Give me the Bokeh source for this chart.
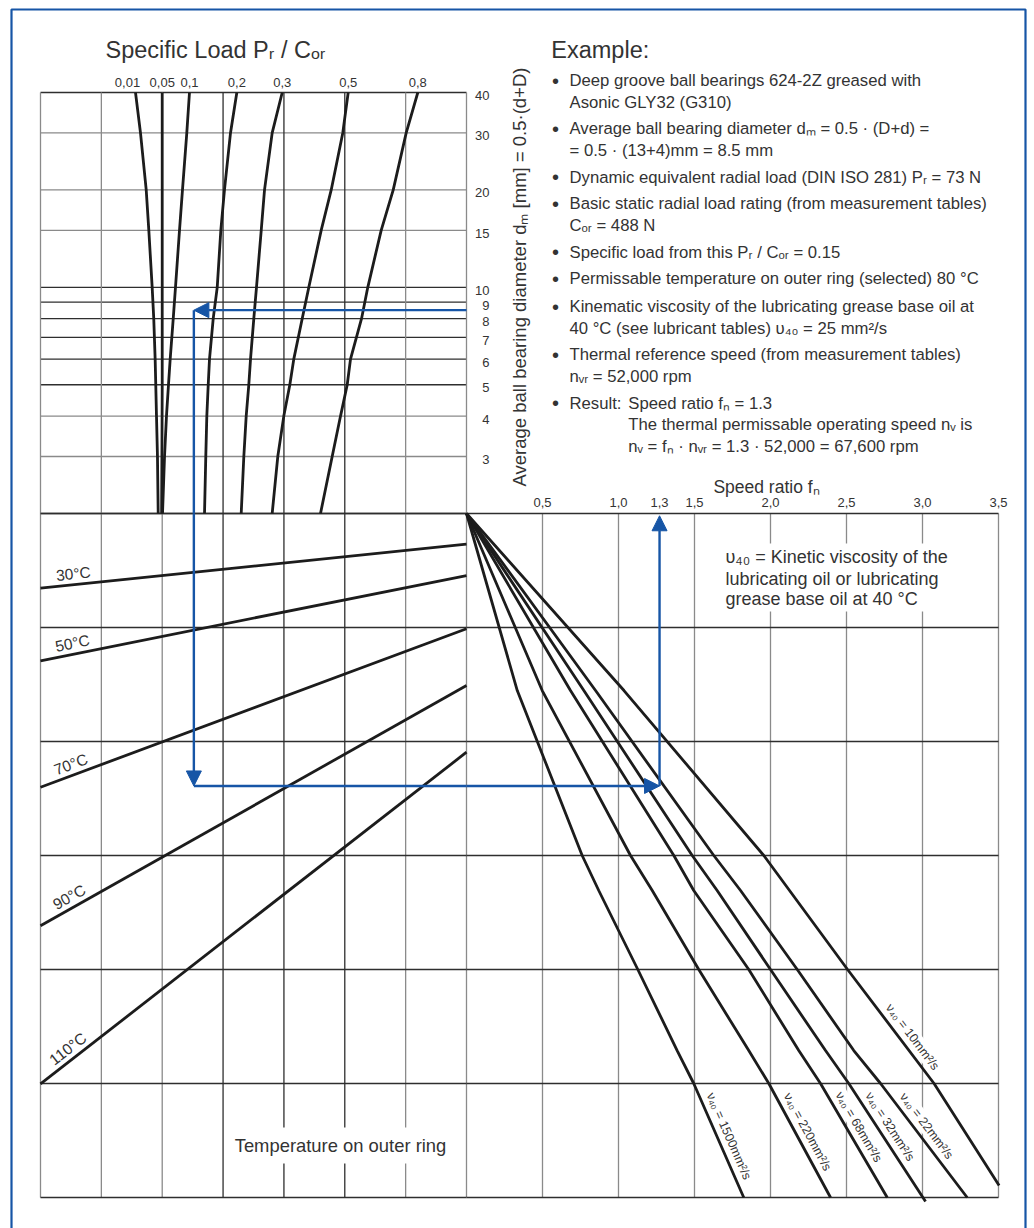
import math
import numpy as np
from bokeh.plotting import figure
from bokeh.models import Range1d, LogScale, Label, Arrow, NormalHead, BoxAnnotation
from bokeh.embed import file_html
from bokeh.resources import INLINE
from bokeh.core.properties import value

# ------------------------------------------------------------------ data
# upper-left quadrant: specific load curves, auxiliary grid position (columns) at each d_m
dm_points = [40, 30, 20, 15, 10, 8, 6, 5, 4, 3, 2]
load_names = ["0,01", "0,05", "0,1", "0,2", "0,3", "0,5", "0,8"]
load_001 = [1.561, 1.643, 1.737, 1.780, 1.835, 1.861, 1.884, 1.894, 1.906, 1.922, 1.934]
load_005 = [2.000, 2.000, 2.000, 2.000, 2.000, 2.000, 2.000, 2.000, 1.998, 1.995, 1.990]
load_01 = [2.448, 2.404, 2.333, 2.284, 2.218, 2.181, 2.131, 2.103, 2.070, 2.038, 2.005]
load_02 = [3.226, 3.122, 3.023, 2.963, 2.904, 2.838, 2.777, 2.756, 2.733, 2.716, 2.695]
load_03 = [3.972, 3.807, 3.681, 3.627, 3.549, 3.505, 3.451, 3.423, 3.380, 3.341, 3.298]
load_05 = [5.056, 4.967, 4.777, 4.612, 4.409, 4.300, 4.162, 4.097, 3.998, 3.899, 3.807]
load_08 = [6.200, 6.009, 5.796, 5.598, 5.378, 5.275, 5.094, 5.040, 4.930, 4.793, 4.601]
load_curves = [load_001, load_005, load_01, load_02, load_03, load_05, load_08]

dm_grid = [40, 30, 20, 15, 10, 9, 8, 7, 6, 5, 4, 3, 2]
dm_ticks = [40, 30, 20, 15, 10, 9, 8, 7, 6, 5, 4, 3]
dm_tick_labels = ["40", "30", "20", "15", "10", "9", "8", "7", "6", "5", "4", "3"]

# lower-left quadrant: temperature lines (row position at right end / left end)
temp_names = ["30°C", "50°C", "70°C", "90°C", "110°C"]
temp_row_right = [0.269, 0.544, 1.011, 1.509, 2.094]
temp_row_left = [0.655, 1.292, 2.401, 3.617, 5.003]

# lower-right quadrant: viscosity lines (speed ratio f_n vs row)
visc_names = ["1500", "220", "68", "32", "22", "10"]
visc_rows_1500 = [0, 1.553, 3.0, 3.307, 4.0, 4.711, 5.0, 6.0]
visc_fn_1500 = [0, 0.334, 0.761, 0.870, 1.127, 1.386, 1.495, 1.824]
visc_rows_220 = [0, 1.553, 3.0, 3.307, 4.0, 4.711, 5.0, 6.0]
visc_fn_220 = [0, 0.498, 1.079, 1.222, 1.528, 1.857, 1.989, 2.395]
visc_rows_68 = [0, 1.553, 3.0, 3.307, 4.0, 4.711, 5.0, 6.0]
visc_fn_68 = [0, 0.684, 1.364, 1.495, 1.857, 2.186, 2.329, 2.768]
visc_rows_32 = [0, 1.553, 3.0, 3.307, 4.0, 4.711, 5.0, 6.035]
visc_fn_32 = [0, 0.772, 1.485, 1.649, 2.000, 2.362, 2.515, 3.020]
visc_rows_22 = [0, 1.553, 3.0, 3.307, 4.0, 4.711, 5.0, 6.0]
visc_fn_22 = [0, 0.849, 1.627, 1.803, 2.176, 2.548, 2.724, 3.294]
visc_rows_10 = [0, 1.553, 3.0, 4.0, 5.0, 5.895]
visc_fn_10 = [0, 1.036, 1.956, 2.507, 3.076, 3.504]
visc_rows = [visc_rows_1500, visc_rows_220, visc_rows_68, visc_rows_32, visc_rows_22, visc_rows_10]
visc_fns = [visc_fn_1500, visc_fn_220, visc_fn_68, visc_fn_32, visc_fn_22, visc_fn_10]

fn_ticks = [0.5, 1.0, 1.5, 2.0, 2.5, 3.0, 3.5]
fn_tick_labels = ["0,5", "1,0", "1,5", "2,0", "2,5", "3,0", "3,5"]

grid_cols = [0, 1, 2, 3, 4, 5, 6, 7]
grid_rows = [0, 1, 2, 3, 4, 5, 6]

# worked example path
example_dm = 8.5
example_load = 2.52
example_row = 2.39
example_fn = 1.27
example_fn_label = "1,3"

# ------------------------------------------------------------------ layout (page pixels)
W, H = 1034, 1228
GX0, COLW = 40, 426 / 7
ORGY, ROWH = 513, 114.0
TOPY = 92
FNX0, FNW = 466, 152.0
DEC = (ORGY - TOPY) / math.log10(40 / 2)


def u_of(px):
    return (px - GX0) / COLW


def fn_of(px):
    return (px - FNX0) / FNW


def row_of(py):
    return (py - ORGY) / ROWH


def dm_of(py):
    return 10 ** (math.log10(40) - (py - TOPY) / DEC)


GRAY = "#8a8a8a"
DARK = "#2e2e2e"
CURVE = "#1c1c1c"
BLUE = "#1655a6"
TEXT = "#333333"
FONT = "Liberation Sans"

p = figure(width=W, height=H, x_range=Range1d(u_of(0), u_of(W)),
           y_range=Range1d(row_of(H), row_of(0)),
           output_backend="svg", toolbar_location=None,
           x_axis_location=None, y_axis_location=None, title=None, min_border=0)
p.extra_x_ranges = {"fn": Range1d(fn_of(0), fn_of(W))}
p.extra_y_ranges = {"dm": Range1d(dm_of(H), dm_of(0))}
p.extra_y_scales = {"dm": LogScale()}
p.grid.visible = False
p.outline_line_color = None
p.background_fill_color = "white"
p.border_fill_color = "white"

# ------------------------------------------------------------------ grid
col_colors = [GRAY, GRAY, GRAY, DARK, DARK, DARK, GRAY, GRAY]
dm_colors = {40: DARK, 30: GRAY, 20: GRAY, 15: GRAY, 10: DARK, 9: DARK, 8: DARK, 7: DARK,
             6: DARK, 5: DARK, 4: GRAY, 3: GRAY, 2: DARK}
p.multi_line(xs=[[grid_cols[0], grid_cols[-1]] for _ in dm_grid], ys=[[d, d] for d in dm_grid],
             line_color=[dm_colors[d] for d in dm_grid], line_width=1.3, y_range_name="dm")
p.multi_line(xs=[[c, c] for c in grid_cols], ys=[[dm_grid[-1], dm_grid[0]] for _ in grid_cols],
             line_color=col_colors, line_width=1.3, y_range_name="dm")
p.multi_line(xs=[[c, c] for c in grid_cols], ys=[[grid_rows[0], grid_rows[-1]] for _ in grid_cols],
             line_color=col_colors, line_width=1.3)
p.multi_line(xs=[[f, f] for f in fn_ticks], ys=[[grid_rows[0], grid_rows[-1]] for _ in fn_ticks],
             line_color=GRAY, line_width=1.3, x_range_name="fn")
p.multi_line(xs=[[grid_cols[0], grid_cols[-1]] for _ in grid_rows], ys=[[r, r] for r in grid_rows],
             line_color=DARK, line_width=1.3)
p.multi_line(xs=[[0, fn_ticks[-1]] for _ in grid_rows], ys=[[r, r] for r in grid_rows],
             line_color=DARK, line_width=1.3, x_range_name="fn")

# white masks behind text blocks
p.quad(left=[fn_of(720)], right=[fn_of(976)], top=[row_of(543)], bottom=[row_of(611)],
       fill_color="white", line_color=None, x_range_name="fn")
p.quad(left=[u_of(228)], right=[u_of(452)], top=[row_of(1127)], bottom=[row_of(1163)],
       fill_color="white", line_color=None)

# ------------------------------------------------------------------ curves
for xs in load_curves:
    p.line(xs, dm_points, line_color=CURVE, line_width=2.8, y_range_name="dm")
for rl, rr in zip(temp_row_left, temp_row_right):
    p.line([grid_cols[0], grid_cols[-1]], [rl, rr], line_color=CURVE, line_width=2.8)
for rows, fns in zip(visc_rows, visc_fns):
    p.line(fns, rows, line_color=CURVE, line_width=2.8, x_range_name="fn")

# ------------------------------------------------------------------ example path (blue)
def head():
    return NormalHead(size=15, fill_color=BLUE, line_color=BLUE, line_width=1)


p.add_layout(Arrow(end=head(), x_start=grid_cols[-1], y_start=example_dm, x_end=example_load,
                   y_end=example_dm, line_color=BLUE, line_width=2.4, y_range_name="dm"))
p.line([example_load, example_load], [example_dm, dm_grid[-1]], line_color=BLUE, line_width=2.4,
       y_range_name="dm")
p.add_layout(Arrow(end=head(), x_start=example_load, y_start=grid_rows[0], x_end=example_load,
                   y_end=example_row, line_color=BLUE, line_width=2.4))
p.line([example_load, grid_cols[-1]], [example_row, example_row], line_color=BLUE, line_width=2.4)
p.add_layout(Arrow(end=head(), x_start=0, y_start=example_row, x_end=example_fn,
                   y_end=example_row, line_color=BLUE, line_width=2.4, x_range_name="fn"))
p.add_layout(Arrow(end=head(), x_start=example_fn, y_start=example_row, x_end=example_fn,
                   y_end=grid_rows[0] + 0.02, line_color=BLUE, line_width=2.4, x_range_name="fn"))

# outer blue frame
p.add_layout(BoxAnnotation(left=u_of(11), right=u_of(1025), top=row_of(9), bottom=row_of(1300),
                           fill_alpha=0, line_color=BLUE, line_alpha=1.0, line_width=2.2))

# ------------------------------------------------------------------ texts
def label(px, py, text, size, align="left", baseline="middle", angle=0.0, color=TEXT):
    p.add_layout(Label(x=u_of(px), y=row_of(py), text=text, text_font=FONT,
                       text_font_size=f"{size}px", text_align=align, text_baseline=baseline,
                       angle=angle, text_color=color))


# load tick labels above curves
load_x = [c[0] for c in load_curves]
load_x[0] -= 8 / COLW
p.text(x=load_x, y=[row_of(82)] * len(load_x), text=load_names, text_font=value(FONT),
       text_font_size="13px", text_align="center", text_baseline="middle", text_color=TEXT)

# dm tick labels
shift = 10 ** (-3 / DEC)
p.text(x=[u_of(489)] * len(dm_ticks), y=[d * shift for d in dm_ticks], text=dm_tick_labels,
       text_font=value(FONT), text_font_size="13px", text_align="right", text_baseline="middle",
       text_color=TEXT, y_range_name="dm")

# f_n tick labels
p.text(x=fn_ticks + [example_fn], y=[row_of(502)] * (len(fn_ticks) + 1),
       text=fn_tick_labels + [example_fn_label], text_font=value(FONT), text_font_size="13px",
       text_align="center", text_baseline="middle", text_color=TEXT, x_range_name="fn")

# temperature labels along lines
TEMP_U, TEMP_GAP = 0.56, 11
for name, rl, rr in zip(temp_names, temp_row_left, temp_row_right):
    ra = rl + (rr - rl) * TEMP_U / grid_cols[-1]
    a = math.atan2((rl - rr) * ROWH, grid_cols[-1] * COLW)
    ox, oy = -TEMP_GAP * math.sin(a), -TEMP_GAP * math.cos(a)
    p.add_layout(Label(x=TEMP_U + ox / COLW, y=ra + oy / ROWH, text=name, text_font=FONT,
                       text_font_size="15.5px", text_align="center", text_baseline="middle",
                       angle=a, text_color=TEXT))

# viscosity labels along lines
VISC_ROW = [5.50, 5.47, 5.43, 5.43, 5.43, 4.65]
VISC_GAP = 11
vx, vy, va, vt = [], [], [], []
for name, rows, fns, ra in zip(visc_names, visc_rows, visc_fns, VISC_ROW):
    fa = float(np.interp(ra, rows, fns))
    i = int(np.searchsorted(rows, ra))
    dx = (fns[i] - fns[i - 1]) * FNW
    dy = (rows[i] - rows[i - 1]) * ROWH
    a = math.atan2(dy, dx)
    vx.append(fa + VISC_GAP * math.sin(a) / FNW)
    vy.append(ra - VISC_GAP * math.cos(a) / ROWH)
    va.append(-a)
    vt.append("ν₄₀ = " + name + "mm²/s")
p.text(x=vx, y=vy, text=vt, angle=va, text_font=value(FONT), text_font_size="12.5px",
       text_align="center", text_baseline="middle", text_color=TEXT, x_range_name="fn",
       background_fill_color="white", padding=1)

# titles
label(105, 49, "Specific Load Pᵣ / Cₒᵣ", 23.5)
label(518.5, 276.5, "Average ball bearing diameter dₘ [mm] = 0.5·(d+D)", 18.5, align="center",
      angle=math.pi / 2)
label(766, 486, "Speed ratio fₙ", 17.5, align="center")
label(340, 1145, "Temperature on outer ring", 18.4, align="center")
for py, t in [(556.7, "υ₄₀ = Kinetic viscosity of the"), (578.3, "lubricating oil or lubricating"),
              (598.3, "grease base oil at 40 °C")]:
    label(725, py, t, 18)

# example box
label(550.8, 49.3, "Example:", 23.5)
bullets = [
    (True, 569, 80.0, "Deep groove ball bearings 624-2Z greased with"),
    (False, 569, 101.7, "Asonic GLY32 (G310)"),
    (True, 569, 128.3, "Average ball bearing diameter dₘ = 0.5 · (D+d) ="),
    (False, 569, 150.0, "= 0.5 · (13+4)mm = 8.5 mm"),
    (True, 569, 176.7, "Dynamic equivalent radial load (DIN ISO 281) Pᵣ = 73 N"),
    (True, 569, 203.3, "Basic static radial load rating (from measurement tables)"),
    (False, 569, 225.0, "Cₒᵣ = 488 N"),
    (True, 569, 251.7, "Specific load from this Pᵣ / Cₒᵣ = 0.15"),
    (True, 569, 278.3, "Permissable temperature on outer ring (selected) 80 °C"),
    (True, 569, 306.0, "Kinematic viscosity of the lubricating grease base oil at"),
    (False, 569, 327.7, "40 °C (see lubricant tables) υ₄₀ = 25 mm²/s"),
    (True, 569, 354.3, "Thermal reference speed (from measurement tables)"),
    (False, 569, 376.0, "nᵥᵣ = 52,000 rpm"),
    (True, 569, 402.7, "Result:"),
    (False, 627.8, 402.7, "Speed ratio fₙ = 1.3"),
    (False, 627.8, 424.3, "The thermal permissable operating speed nᵥ is"),
    (False, 627.8, 446.0, "nᵥ = fₙ · nᵥᵣ = 1.3 · 52,000 = 67,600 rpm"),
]
for b, px, py, t in bullets:
    if b:
        label(555, py, "•", 20, align="center")
    label(px, py, t, 16.7)

open("out.html", "w").write(file_html(p, INLINE))
